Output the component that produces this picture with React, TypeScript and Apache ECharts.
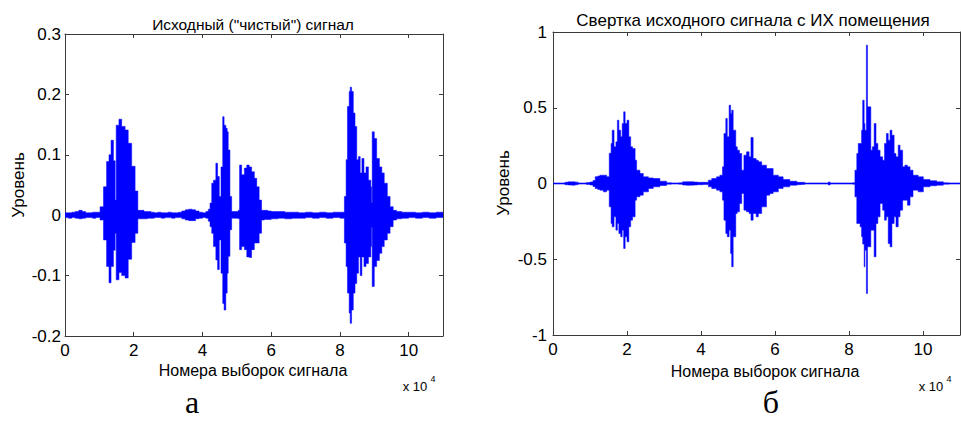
import React, { useEffect, useRef } from "react";
import * as echarts from "echarts";

// ---------- data (sample index in thousands, envelope max / min) ----------
const cleanX = [0, 1, 2, 3, 4, 5, 6, 7, 8, 9, 10.2, 11.2, 12.1, 12.8, 13.4, 14.1, 14.6, 14.9, 15.7, 16.5, 17.5, 18.4, 19.4, 20.4, 21.2, 22, 23, 24, 25, 26, 27, 28, 29, 30, 31, 32, 33, 34, 35, 36, 37, 38, 39, 40, 41, 41.7, 42.2, 42.7, 43.2, 43.9, 44.4, 44.9, 45.4, 45.9, 46.3, 46.8, 47.2, 47.5, 48.0, 48.5, 49.5, 50.4, 50.8, 51.4, 52.2, 52.9, 53.6, 54.3, 55.1, 55.8, 56.5, 57.2, 58, 59, 60, 62, 64, 66, 68, 70, 72, 74, 76, 78, 80, 81.3, 81.8, 82.2, 82.7, 83.0, 83.4, 83.9, 84.4, 84.9, 85.4, 85.9, 86.4, 87.0, 87.6, 88.3, 89.0, 89.2, 89.4, 90.0, 90.7, 91.5, 92.2, 92.9, 93.8, 94.6, 95.5, 96.5, 98, 100, 102, 104, 106, 108];
const cleanMax = [0.004, 0.004, 0.005, 0.006, 0.008, 0.006, 0.004, 0.004, 0.005, 0.005, 0.014, 0.047, 0.089, 0.10, 0.124, 0.09, 0.025, 0.149, 0.159, 0.147, 0.141, 0.119, 0.081, 0.04, 0.008, 0.008, 0.006, 0.006, 0.005, 0.004, 0.005, 0.004, 0.004, 0.005, 0.004, 0.004, 0.005, 0.007, 0.009, 0.010, 0.009, 0.007, 0.005, 0.004, 0.006, 0.01, 0.02, 0.053, 0.058, 0.086, 0.064, 0.031, 0.08, 0.163, 0.149, 0.144, 0.138, 0.108, 0.031, 0.006, 0.006, 0.008, 0.083, 0.067, 0.078, 0.083, 0.08, 0.072, 0.061, 0.047, 0.025, 0.008, 0.008, 0.007, 0.006, 0.006, 0.005, 0.005, 0.004, 0.005, 0.004, 0.005, 0.004, 0.005, 0.005, 0.031, 0.092, 0.18, 0.205, 0.212, 0.205, 0.169, 0.147, 0.092, 0.097, 0.07, 0.094, 0.07, 0.08, 0.058, 0.047, 0.02, 0.138, 0.127, 0.094, 0.08, 0.07, 0.053, 0.031, 0.014, 0.008, 0.006, 0.005, 0.005, 0.004, 0.005, 0.004, 0.005];
const cleanMin = [-0.004, -0.005, -0.004, -0.005, -0.006, -0.005, -0.004, -0.004, -0.005, -0.004, -0.008, -0.041, -0.085, -0.112, -0.085, -0.058, -0.03, -0.107, -0.095, -0.10, -0.104, -0.073, -0.045, -0.03, -0.006, -0.006, -0.006, -0.005, -0.005, -0.004, -0.004, -0.005, -0.004, -0.004, -0.005, -0.004, -0.004, -0.006, -0.008, -0.009, -0.009, -0.006, -0.005, -0.004, -0.005, -0.01, -0.019, -0.03, -0.052, -0.074, -0.09, -0.041, -0.096, -0.146, -0.157, -0.129, -0.096, -0.068, -0.024, -0.005, -0.005, -0.006, -0.057, -0.052, -0.057, -0.069, -0.07, -0.057, -0.046, -0.046, -0.03, -0.008, -0.007, -0.007, -0.006, -0.005, -0.006, -0.005, -0.005, -0.004, -0.005, -0.004, -0.005, -0.004, -0.005, -0.046, -0.085, -0.129, -0.162, -0.179, -0.157, -0.129, -0.113, -0.096, -0.069, -0.10, -0.069, -0.085, -0.08, -0.069, -0.052, -0.02, -0.118, -0.085, -0.075, -0.063, -0.052, -0.041, -0.03, -0.019, -0.008, -0.006, -0.005, -0.004, -0.005, -0.004, -0.005, -0.004];

const convX = [0, 2, 3.2, 4, 5, 6, 6.8, 8, 9, 10, 10.8, 11.4, 12.1, 12.7, 13.6, 14.5, 15.2, 15.7, 16.0, 16.5, 17.0, 17.4, 17.8, 18.3, 18.7, 19.1, 19.5, 20.0, 20.5, 21.0, 21.5, 22.2, 22.6, 23.5, 24.4, 25.8, 27.1, 28.9, 30.7, 32, 34, 35, 36, 37, 38, 39, 40.6, 42.0, 42.9, 44.2, 45.1, 45.8, 46.2, 46.7, 47.1, 47.6, 48.0, 48.3, 48.7, 49.4, 49.8, 50.4, 51.0, 51.6, 52.3, 53.0, 53.5, 54.1, 54.9, 55.5, 56.4, 57.7, 58.6, 59.5, 60.9, 62.2, 64.0, 65.9, 67, 68, 70, 74.4, 74.9, 78, 81.0, 81.6, 82.1, 82.5, 83.0, 83.4, 83.7, 84.1, 84.3, 84.7, 85.0, 85.9, 86.3, 86.8, 87.3, 87.8, 88.4, 89.1, 89.6, 90.1, 90.6, 91.1, 91.6, 92.2, 92.7, 93.3, 93.8, 94.5, 95.1, 95.8, 96.5, 97.3, 98.7, 100.1, 101.9, 103.7, 105.5, 107];
const convMax = [0.003, 0.003, 0.008, 0.011, 0.011, 0.009, 0.004, 0.004, 0.006, 0.01, 0.02, 0.045, 0.05, 0.055, 0.055, 0.045, 0.2, 0.264, 0.352, 0.242, 0.275, 0.418, 0.352, 0.308, 0.396, 0.473, 0.396, 0.418, 0.308, 0.242, 0.231, 0.154, 0.088, 0.066, 0.044, 0.037, 0.033, 0.015, 0.005, 0.003, 0.005, 0.011, 0.012, 0.012, 0.01, 0.008, 0.008, 0.022, 0.033, 0.044, 0.055, 0.11, 0.33, 0.429, 0.308, 0.517, 0.462, 0.484, 0.352, 0.242, 0.22, 0.198, 0.088, 0.187, 0.209, 0.176, 0.304, 0.165, 0.154, 0.143, 0.121, 0.099, 0.099, 0.055, 0.044, 0.026, 0.015, 0.008, 0.008, 0.004, 0.003, 0.01, 0.003, 0.003, 0.005, 0.088, 0.198, 0.264, 0.264, 0.352, 0.55, 0.396, 0.352, 0.913, 0.506, 0.22, 0.242, 0.396, 0.264, 0.22, 0.176, 0.154, 0.264, 0.33, 0.286, 0.352, 0.319, 0.198, 0.176, 0.253, 0.22, 0.11, 0.121, 0.11, 0.088, 0.055, 0.044, 0.026, 0.018, 0.011, 0.005, 0.003];
const convMin = [-0.003, -0.003, -0.008, -0.01, -0.011, -0.008, -0.004, -0.004, -0.006, -0.01, -0.02, -0.033, -0.04, -0.044, -0.055, -0.044, -0.154, -0.264, -0.286, -0.22, -0.308, -0.264, -0.33, -0.352, -0.308, -0.429, -0.352, -0.385, -0.286, -0.242, -0.22, -0.11, -0.088, -0.077, -0.055, -0.033, -0.022, -0.013, -0.005, -0.003, -0.005, -0.01, -0.012, -0.011, -0.01, -0.008, -0.007, -0.022, -0.033, -0.044, -0.055, -0.11, -0.242, -0.33, -0.352, -0.308, -0.462, -0.55, -0.352, -0.198, -0.187, -0.132, -0.066, -0.176, -0.187, -0.198, -0.242, -0.198, -0.22, -0.198, -0.154, -0.077, -0.066, -0.055, -0.033, -0.022, -0.011, -0.008, -0.006, -0.004, -0.003, -0.01, -0.003, -0.003, -0.005, -0.088, -0.264, -0.264, -0.286, -0.352, -0.4, -0.55, -0.44, -0.726, -0.418, -0.308, -0.308, -0.484, -0.264, -0.22, -0.132, -0.176, -0.242, -0.22, -0.396, -0.418, -0.264, -0.22, -0.286, -0.22, -0.176, -0.11, -0.11, -0.143, -0.088, -0.044, -0.055, -0.022, -0.015, -0.011, -0.005, -0.003];

const xEndK = 110;
const FONT = "'Liberation Sans', Arial, Helvetica, sans-serif";
const SERIF = "'Liberation Serif', 'Times New Roman', serif";
const BLUE = "#0000ff";

// one item per panel: the whole envelope is drawn as a stepped polygon through api.coord
function makeRender(xs: number[], hi: number[], lo: number[]) {
  return (params: any, api: any) => {
    const top: number[][] = [];
    const bottom: number[][] = [];
    for (let i = 0; i < xs.length; i++) {
      const a = xs[i] / 10;
      const b = (i + 1 < xs.length ? xs[i + 1] : xEndK) / 10;
      const t0 = api.coord([a, hi[i]]);
      const t1 = api.coord([b, hi[i]]);
      const b0 = api.coord([a, lo[i]]);
      const b1 = api.coord([b, lo[i]]);
      // keep at least ~1px total thickness
      const mid = (t0[1] + b0[1]) / 2;
      const ty = Math.min(t0[1], mid - 0.6);
      const by = Math.max(b0[1], mid + 0.6);
      top.push([t0[0], ty], [t1[0], ty]);
      bottom.push([b0[0], by], [b1[0], by]);
    }
    const pts = top.concat(bottom.reverse());
    return {
      type: "polygon",
      shape: { points: pts },
      style: { fill: BLUE, stroke: BLUE, lineWidth: 0.5 },
    };
  };
}

function xAxisDef(grid: number, pos: "bottom" | "top") {
  return {
    type: "value", gridIndex: grid, position: pos, min: 0, max: 11, interval: 2,
    axisLine: { show: true, onZero: false, lineStyle: { color: "#3a3a3a", width: 1 } },
    axisTick: { show: true, inside: true, length: 4, lineStyle: { color: "#3a3a3a" } },
    axisLabel: { show: pos === "bottom", showMaxLabel: false, color: "#000", fontSize: 17, fontFamily: FONT, margin: 6 },
    splitLine: { show: false },
  };
}

function yAxisDef(grid: number, pos: "left" | "right", min: number, max: number, step: number, margin: number) {
  return {
    type: "value", gridIndex: grid, position: pos, min, max, interval: step,
    axisLine: { show: true, onZero: false, lineStyle: { color: "#3a3a3a", width: 1 } },
    axisTick: { show: true, inside: true, length: 4, lineStyle: { color: "#3a3a3a" } },
    axisLabel: { show: pos === "left", color: "#000", fontSize: 17, fontFamily: FONT, margin },
    splitLine: { show: false },
  };
}

export default function App() {
  const ref = useRef<HTMLDivElement>(null);
  useEffect(() => {
    document.body.style.margin = "0";
    const chart = echarts.init(ref.current!, null, { renderer: "svg" });
    const txt = (x: number, y: number, s: string, size: number, extra: any = {}) => ({
      type: "text", x, y, silent: true,
      style: { text: s, fontSize: size, fontFamily: FONT, fill: "#000", align: "center", verticalAlign: "middle", ...extra },
    });
    chart.setOption({
      animation: false,
      backgroundColor: "#fff",
      grid: [
        { left: 65, top: 34, width: 378, height: 302 },
        { left: 553, top: 32, width: 407, height: 303 },
      ],
      xAxis: [xAxisDef(0, "bottom"), xAxisDef(0, "top"), xAxisDef(1, "bottom"), xAxisDef(1, "top")],
      yAxis: [
        yAxisDef(0, "left", -0.2, 0.3, 0.1, 4),
        yAxisDef(0, "right", -0.2, 0.3, 0.1, 4),
        yAxisDef(1, "left", -1, 1, 0.5, 6),
        yAxisDef(1, "right", -1, 1, 0.5, 6),
      ],
      series: [
        {
          type: "custom", xAxisIndex: 0, yAxisIndex: 0,
          renderItem: makeRender(cleanX, cleanMax, cleanMin),
          data: [[0, 0]], clip: true,
        },
        {
          type: "custom", xAxisIndex: 2, yAxisIndex: 2,
          renderItem: makeRender(convX, convMax, convMin),
          data: [[0, 0]], clip: true,
        },
      ],
      graphic: [
        txt(253, 24, 'Исходный ("чистый") сигнал', 15.5),
        txt(753, 20, "Свертка исходного сигнала с ИХ помещения", 17),
        { ...txt(18, 185, "Уровень", 17), rotation: Math.PI / 2 },
        { ...txt(503, 183, "Уровень", 17), rotation: Math.PI / 2 },
        txt(253, 370, "Номера выборок сигнала", 16),
        txt(765, 371, "Номера выборок сигнала", 16),
        txt(415, 386, "x 10", 13),
        txt(433, 379, "4", 9),
        txt(931, 386, "x 10", 13),
        txt(949, 379, "4", 9),
        txt(192, 402, "а", 32, { fontFamily: SERIF }),
        txt(771, 402, "б", 32, { fontFamily: SERIF }),
      ],
    });
    return () => chart.dispose();
  }, []);
  return <div ref={ref} style={{ width: 961, height: 439 }} />;
}
